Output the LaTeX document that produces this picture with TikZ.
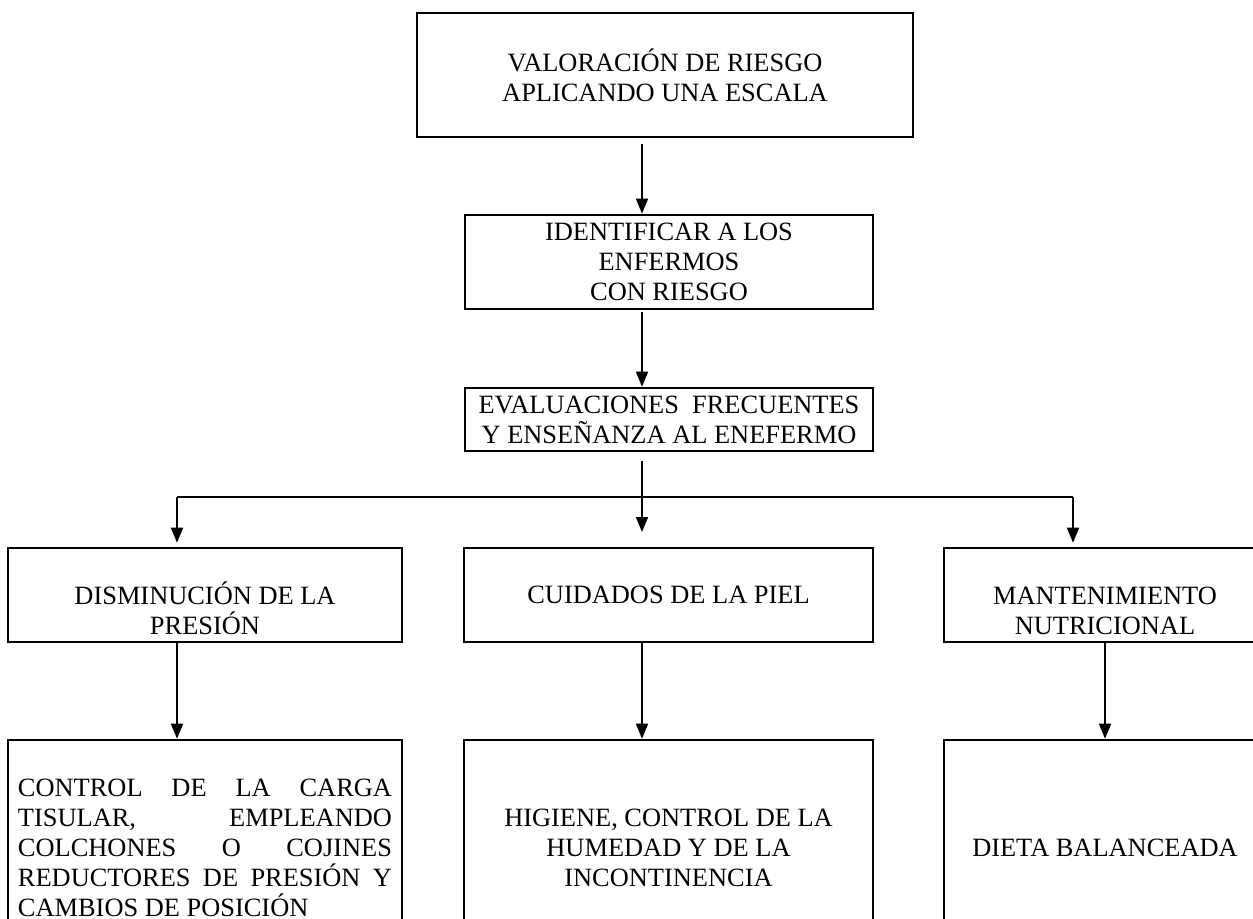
\documentclass[tikz,border=0pt]{standalone}
\usepackage{fontspec}
\setmainfont{Liberation Serif}
\usetikzlibrary{positioning,arrows.meta}
\tikzset{
  box/.style={rectangle, draw=black, line width=1.3pt, align=center, inner sep=1pt,
    font=\fontsize{13.2}{15}\selectfont},
  connect/.style={-{Triangle[length=7.5pt,width=6pt]}, line width=0.85pt},
  branchline/.style={line width=0.85pt}
}

\begin{document}
\begin{tikzpicture}[x=0.5pt,y=-0.5pt]
  \useasboundingbox (0,0) rectangle (1253,919);
  \clip (0,0) rectangle (1253,919);
  \node[box, minimum width=248pt, minimum height=62pt] (Valoracion) at (665,75) {VALORACIÓN DE RIESGO\\APLICANDO UNA ESCALA};
  \node[box, minimum width=204pt, minimum height=47pt] (Identificar) at (669,262) {IDENTIFICAR A LOS\\ENFERMOS\\CON RIESGO};
  \node[box, minimum width=204pt, minimum height=31.5pt] (Evaluar) at (669,419.5) {EVALUACIONES\ \ FRECUENTES\\Y ENSEÑANZA AL ENEFERMO};

  \node[box, minimum width=197pt, minimum height=47pt] (Presion) at (205,595) {\rule{0pt}{25pt}DISMINUCIÓN DE LA\\PRESIÓN};
  \node[box, minimum width=204.5pt, minimum height=47pt] (Piel) at (668.5,595) {CUIDADOS DE LA PIEL};
  \node[box, minimum width=161pt, minimum height=47pt] (Nutricion) at (1105,595) {\rule{0pt}{25pt}MANTENIMIENTO\\NUTRICIONAL};

  \node[box, minimum width=197pt, minimum height=108pt, text width=187pt, align=justify, inner xsep=5pt] (Carga) at (205,848)
    {CONTROL DE LA CARGA\linebreak TISULAR, EMPLEANDO\linebreak COLCHONES O COJINES\linebreak REDUCTORES DE PRESIÓN Y\linebreak CAMBIOS DE POSICIÓN};
  \node[box, minimum width=204.5pt, minimum height=108pt] (Higiene) at (668.5,848) {HIGIENE, CONTROL DE LA\\HUMEDAD Y DE LA\\INCONTINENCIA};
  \node[box, minimum width=161pt, minimum height=108pt] (Dieta) at (1105,848) {DIETA BALANCEADA};

  \coordinate (ColMid) at (642,0);
  \coordinate (BranchL) at (177,497);
  \coordinate (BranchR) at (1073,497);
  \coordinate (MidEnd) at (642,532);

  \path ([yshift=-3pt]Valoracion.south -| ColMid) edge [connect] (Identificar.north -| ColMid);
  \path ([yshift=-1pt]Identificar.south -| ColMid) edge [connect] (Evaluar.north -| ColMid);
  \path ([yshift=-4.5pt]Evaluar.south -| ColMid) edge [connect] (MidEnd);

  \draw[branchline] (BranchL) -- (BranchR);
  \path (BranchL) edge [connect, shorten >=2pt] (Presion.north -| BranchL);
  \path (BranchR) edge [connect, shorten >=2pt] (Nutricion.north -| BranchR);

  \path (Presion.south -| BranchL) edge [connect] (Carga.north -| BranchL);
  \path (Piel.south -| ColMid) edge [connect] (Higiene.north -| ColMid);
  \path (Nutricion.south) edge [connect] (Dieta.north);
\end{tikzpicture}
\end{document}
